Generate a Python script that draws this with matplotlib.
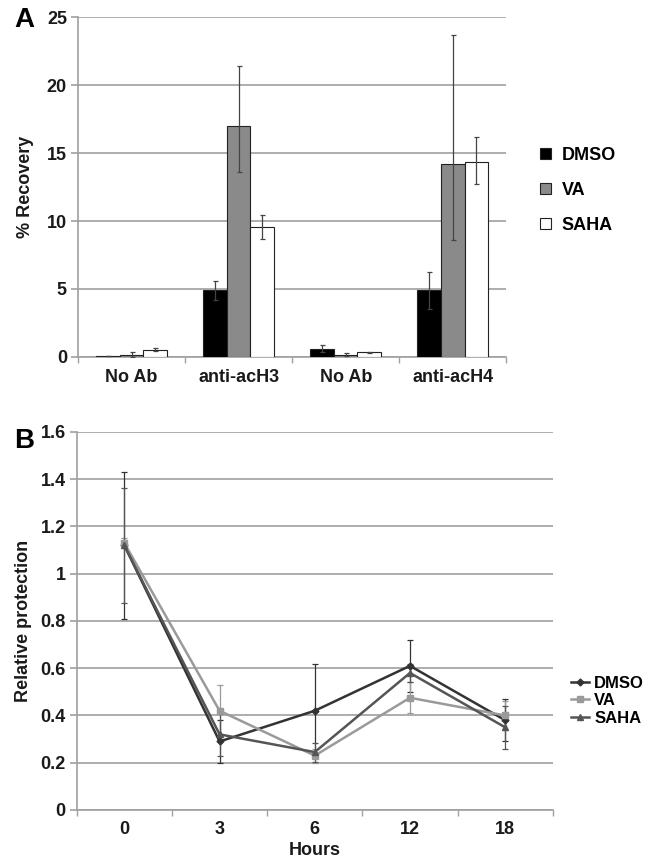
import numpy as np
import matplotlib
matplotlib.use("Agg")
import matplotlib.pyplot as plt
from matplotlib.lines import Line2D

plt.rcParams['font.family'] = ['Liberation Sans', 'DejaVu Sans']
plt.rcParams['font.weight'] = 'bold'

# Panel A data
groups = ['No Ab', 'anti-acH3', 'No Ab', 'anti-acH4']
treatments = ['DMSO', 'VA', 'SAHA']
rec_dmso = [0.05, 4.9, 0.6, 4.9]
rec_va = [0.15, 17.0, 0.15, 14.2]
rec_saha = [0.55, 9.55, 0.35, 14.35]
err_dmso_lo = [0.0, 0.7, 0.25, 1.35]
err_dmso_hi = [0.0, 0.7, 0.25, 1.35]
err_va_lo = [0.15, 3.4, 0.1, 5.6]
err_va_hi = [0.2, 4.4, 0.15, 9.5]
err_saha_lo = [0.08, 0.9, 0.05, 1.65]
err_saha_hi = [0.08, 0.9, 0.05, 1.85]

# Panel B data
hours = ['0', '3', '6', '12', '18']
prot_dmso = [1.12, 0.29, 0.42, 0.61, 0.38]
prot_va = [1.13, 0.42, 0.23, 0.475, 0.40]
prot_saha = [1.12, 0.32, 0.245, 0.58, 0.35]
perr_dmso = [0.31, 0.09, 0.20, 0.11, 0.09]
perr_va = [0.02, 0.11, 0.03, 0.065, 0.06]
perr_saha = [0.245, 0.09, 0.04, 0.04, 0.09]

grid_col = '#a0a0a0'
txt_col = '#1a1a1a'

fig = plt.figure(figsize=(6.45, 8.65), dpi=100)

# ---- A ----
axA = fig.add_axes([0.121, 0.5873, 0.664, 0.393])
x = np.arange(len(groups))
w = 0.22
bar_vals = [rec_dmso, rec_va, rec_saha]
bar_lo = [err_dmso_lo, err_va_lo, err_saha_lo]
bar_hi = [err_dmso_hi, err_va_hi, err_saha_hi]
faces = ['#000000', '#8a8a8a', '#ffffff']
for i, name in enumerate(treatments):
    axA.bar(x + (i - 1) * w, bar_vals[i], w, color=faces[i], edgecolor='#222222',
            linewidth=0.8, label=name, zorder=3,
            yerr=[bar_lo[i], bar_hi[i]],
            error_kw=dict(ecolor='#444444', elinewidth=0.9, capsize=1.8, capthick=0.9))
axA.set_xlim(-0.5, len(groups) - 0.5)
axA.set_ylim(0, 25)
axA.set_yticks([0, 5, 10, 15, 20, 25])
axA.yaxis.grid(True, color=grid_col, linewidth=1.2, zorder=0)
axA.set_xticks(x)
axA.set_xticklabels(groups, fontsize=13, fontweight='bold', color=txt_col)
axA.set_xticks(np.arange(-0.5, len(groups)), minor=True)
axA.tick_params(axis='x', which='major', length=0, pad=9)
axA.tick_params(axis='x', which='minor', length=4, color=grid_col, width=1)
axA.tick_params(axis='y', length=5, color=grid_col, width=1.2, labelsize=13,
                labelcolor=txt_col, pad=3)
for lab in axA.get_yticklabels():
    lab.set_fontweight('bold')
for s in ['top', 'right']:
    axA.spines[s].set_visible(False)
for s in ['left', 'bottom']:
    axA.spines[s].set_color(grid_col)
    axA.spines[s].set_linewidth(1.2)
axA.set_ylabel('% Recovery', fontsize=13, fontweight='bold', color=txt_col, labelpad=9)
axA.legend(loc='center left', bbox_to_anchor=(0.812, 0.78), bbox_transform=fig.transFigure,
           frameon=False, handlelength=0.6, handleheight=0.6,
           handletextpad=0.6, labelspacing=1.0, prop={'weight': 'bold', 'size': 13})
fig.text(0.022, 0.977, 'A', fontsize=20, fontweight='bold', va='center', ha='left')

# ---- B ----
axB = fig.add_axes([0.119, 0.0636, 0.738, 0.437])
xb = np.arange(len(hours))
lines = [(prot_dmso, perr_dmso, '#333333', 'D', 3.5, 'DMSO'),
         (prot_va, perr_va, '#9a9a9a', 's', 4.5, 'VA'),
         (prot_saha, perr_saha, '#555555', '^', 4.5, 'SAHA')]
handles = []
for vals, errs, col, mk, ms, name in lines:
    axB.errorbar(xb, vals, yerr=errs, color=col, marker=mk, markersize=ms,
                 linewidth=1.8, elinewidth=0.9, capsize=2, capthick=0.9, zorder=3)
    handles.append(Line2D([], [], color=col, marker=mk, markersize=ms,
                          linewidth=1.8, label=name))
axB.set_xlim(-0.5, len(hours) - 0.5)
axB.set_ylim(0, 1.6)
axB.set_yticks([0, 0.2, 0.4, 0.6, 0.8, 1.0, 1.2, 1.4, 1.6])
axB.set_yticklabels(['0', '0.2', '0.4', '0.6', '0.8', '1', '1.2', '1.4', '1.6'])
axB.yaxis.grid(True, color=grid_col, linewidth=1.2, zorder=0)
axB.set_xticks(xb)
axB.set_xticklabels(hours, fontsize=13, fontweight='bold', color=txt_col)
axB.set_xticks(np.arange(-0.5, len(hours)), minor=True)
axB.tick_params(axis='x', which='major', length=0, pad=8)
axB.tick_params(axis='x', which='minor', length=4, color=grid_col, width=1)
axB.tick_params(axis='y', length=5, color=grid_col, width=1.2, labelsize=13,
                labelcolor=txt_col, pad=3)
for lab in axB.get_yticklabels():
    lab.set_fontweight('bold')
for s in ['top', 'right']:
    axB.spines[s].set_visible(False)
for s in ['left', 'bottom']:
    axB.spines[s].set_color(grid_col)
    axB.spines[s].set_linewidth(1.2)
axB.set_ylabel('Relative protection', fontsize=13, fontweight='bold', color=txt_col, labelpad=6)
axB.set_xlabel('Hours', fontsize=13, fontweight='bold', color=txt_col, labelpad=3)
axB.legend(handles=handles, loc='center left', bbox_to_anchor=(0.862, 0.19),
           bbox_transform=fig.transFigure, frameon=False, handlelength=1.1,
           handletextpad=0.3, labelspacing=0.15, prop={'weight': 'bold', 'size': 12})
fig.text(0.022, 0.49, 'B', fontsize=20, fontweight='bold', va='center', ha='left')

fig.savefig('out.png', dpi=100)
